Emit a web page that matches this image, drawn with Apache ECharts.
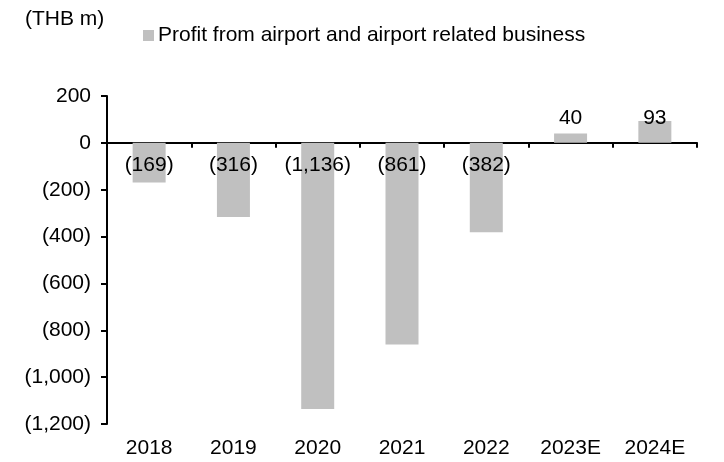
<!DOCTYPE html>
<html>
<head>
<meta charset="utf-8">
<script src="https://cdn.jsdelivr.net/npm/echarts@6/dist/echarts.min.js"></script>
<style>
  html, body { margin: 0; padding: 0; background: #fff; }
  #chart { width: 724px; height: 462px; }
</style>
</head>
<body>
<div id="chart"></div>
<script>
const years = ['2018', '2019', '2020', '2021', '2022', '2023E', '2024E'];
const profit = [-169, -316, -1136, -861, -382, 40, 93];
const seriesName = 'Profit from airport and airport related business';

// negative numbers in brackets, with thousands separator
function fmt(v) {
  const s = Math.abs(v).toLocaleString('en-US');
  return v < 0 ? '(' + s + ')' : s;
}

const chart = echarts.init(document.getElementById('chart'));
const font = 'Liberation Sans, Arial, sans-serif';
const fs = 21;

const option = {
  animation: false,
  textStyle: { fontFamily: font },
  title: {
    text: '(THB m)',
    left: 25,
    top: 9,
    padding: 0,
    textStyle: { fontSize: fs, fontWeight: 'normal', color: '#000', fontFamily: font }
  },
  legend: {
    left: 143,
    top: 25,
    padding: 0,
    itemWidth: 11,
    itemHeight: 11,
    itemGap: 4,
    icon: 'rect',
    textStyle: { fontSize: fs, color: '#000', fontFamily: font, padding: [0, 0, 0, -1] },
    data: [seriesName]
  },
  grid: { left: 107, right: 27, top: 96, bottom: 38 },
  xAxis: [
    {
      type: 'category',
      data: years,
      position: 'bottom',
      axisLine: { show: false, onZero: false },
      axisTick: { show: false },
      axisLabel: { color: '#000', fontSize: fs, margin: 14, interval: 0, fontFamily: font }
    },
    {
      type: 'category',
      data: years,
      position: 'bottom',
      axisLine: { show: true, onZero: true, lineStyle: { color: '#000', width: 2 } },
      axisTick: { show: true, length: 5, lineStyle: { color: '#000', width: 2 } },
      axisLabel: { show: false }
    }
  ],
  yAxis: {
    type: 'value',
    min: -1200,
    max: 200,
    interval: 200,
    axisLine: { show: true, lineStyle: { color: '#000', width: 2 } },
    axisTick: { show: true, length: 6, lineStyle: { color: '#000', width: 2 } },
    splitLine: { show: false },
    axisLabel: { color: '#000', fontSize: fs, margin: 16, fontFamily: font, formatter: fmt }
  },
  series: [
    {
      name: seriesName,
      type: 'bar',
      xAxisIndex: 0,
      barWidth: 33,
      itemStyle: { color: '#c0c0c0' },
      data: profit.map(v => ({
        value: v,
        label: v < 0
          ? { position: 'insideTop', distance: 12 }
          : { position: 'insideBottom', distance: 14 }
      })),
      label: {
        show: true,
        color: '#000',
        fontSize: fs,
        fontFamily: font,
        formatter: p => fmt(p.value)
      }
    }
  ]
};

chart.setOption(option);
</script>
</body>
</html>
